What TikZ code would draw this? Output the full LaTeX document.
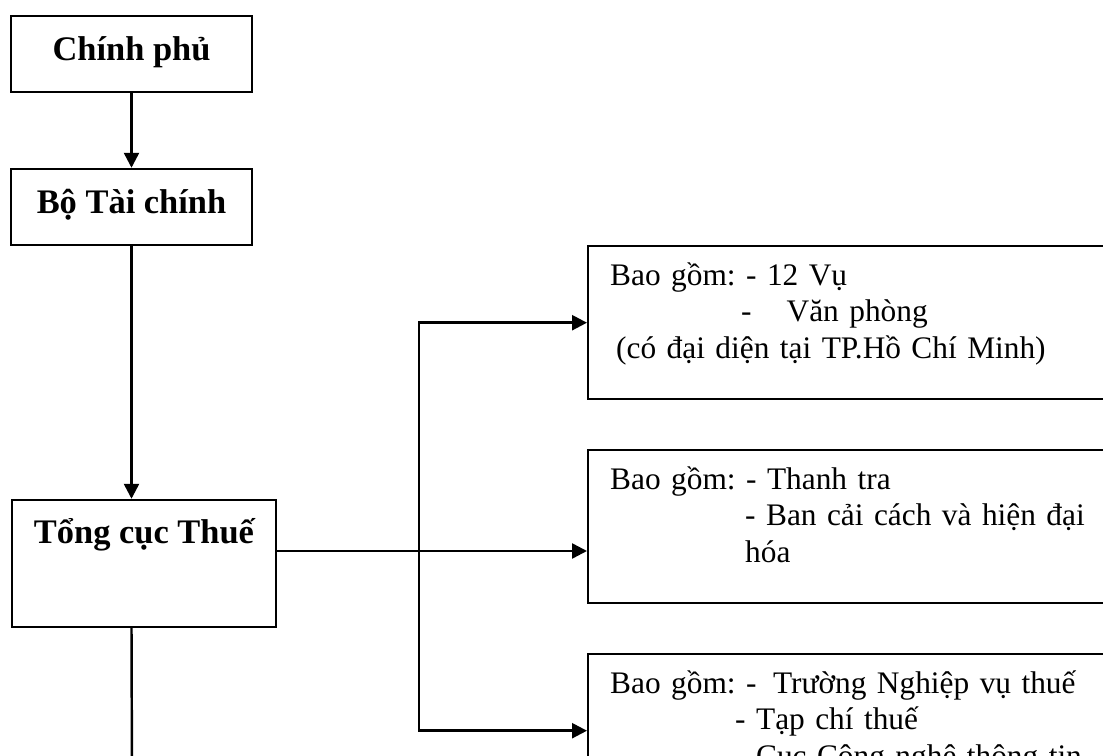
\documentclass[tikz,border=0pt]{standalone}
\usepackage{fontspec}
\setmainfont{Liberation Serif}
\usepackage{tikz}
\usetikzlibrary{arrows.meta}
\tikzset{>={Triangle[length = 0.3cm, width = 0.3cm]}}
\tikzset{headbox/.style = {draw, line width = 1.4pt, inner sep = 0, font = \fontsize{19.6}{23}\selectfont\bfseries}}
\tikzset{listbox/.style = {draw, line width = 1.4pt, anchor = north west, inner xsep = 0.44cm, inner ysep = 0, text width = 10.18cm, text height = 0.78cm, text depth = 2.28cm, font = {\fontsize{17.85}{20.8}\selectfont\frenchspacing\parindent=0pt}}}
\tikzset{conn/.style = {line width = 1.4pt, ->}}

\begin{document}
\begin{tikzpicture}[x = 0.02cm, y = -0.02cm]

    \useasboundingbox (0, 0) rectangle (1103, 756);
    \clip (0, 0) rectangle (1103, 756);

    \node [headbox, minimum width = 4.82cm, text height = 0.9cm, text depth = 0.62cm] (cp) at (131.5, 54) {Chính phủ};
    \node [headbox, minimum width = 4.82cm, text height = 0.9cm, text depth = 0.62cm] (btc) at (131.5, 207) {Bộ Tài chính};
    \node [headbox, minimum width = 5.28cm, text height = 0.86cm, text depth = 1.68cm] (tct) at (144, 563.5) {Tổng cục Thuế};

    \node [listbox] (vu) at (587, 245) {Bao gồm: - 12 Vụ\\
        \hspace*{2.62cm}-\hspace*{0.7cm}Văn phòng\\
        \hspace*{0.12cm}(có đại diện tại TP.Hồ Chí Minh)};
    \node [listbox] (tt) at (587, 449) {Bao gồm: - Thanh tra\\
        \hspace*{2.7cm}- Ban cải cách và hiện đại\\
        \hspace*{2.7cm}hóa};
    \node [listbox] (tr) at (587, 653) {Bao gồm: -\hspace*{0.33cm}Trường Nghiệp vụ thuế\\
        \hspace*{2.5cm}- Tạp chí thuế\\
        \hspace*{2.5cm}- Cục Công nghệ thông tin};

    \coordinate (trunk) at (419, 551);
    \coordinate (next) at (132, 780);

    \draw [conn] (cp) -- (btc);
    \draw [conn] (btc.south) -- (btc.south |- tct.north);
    \draw [line width = 1.4pt] (btc.south |- tct.south) -- (next);
    \draw [conn] (tct.east |- trunk) -- (tt.west |- trunk);
    \draw [conn, <->] (vu.west) -| (trunk) |- (tr.west);
  \end{tikzpicture}
\end{document}
